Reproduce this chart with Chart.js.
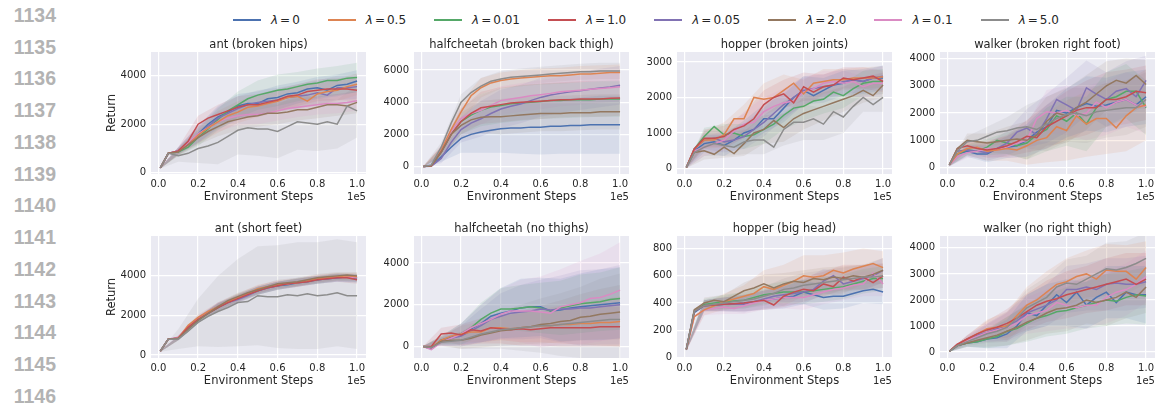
<!DOCTYPE html>
<html>
<head>
<meta charset="utf-8">
<script src="https://cdn.jsdelivr.net/npm/chart.js@4.4.0/dist/chart.umd.min.js"></script>
<style>
  body { margin: 0; width: 1157px; height: 408px; position: relative; overflow: hidden; background: #fff;
         font-family: "DejaVu Sans", sans-serif; color: #262626; }
  .ln { position: absolute; left: 0; width: 56px; text-align: right; line-height: 20px;
        font: bold 19.5px "Liberation Sans", Arial, sans-serif; color: #b3b3b3; }
  #legend { position: absolute; left: 233px; top: 12px; display: flex; align-items: center; font-size: 12px; line-height: 16px; }
  .item { display: flex; align-items: center; margin-right: 28px; }
  .swatch { width: 28px; height: 2px; margin-right: 10px; }
  .eq { margin: 0 2px; }
  .ttl, .xl { position: absolute; text-align: center; font-size: 11.5px; line-height: 14px; white-space: nowrap; }
  .exp { position: absolute; text-align: right; font-size: 10px; line-height: 12px; }
  .yl { position: absolute; width: 60px; height: 14px; line-height: 14px; text-align: center; font-size: 11.5px; transform: rotate(-90deg); }
  .pan { position: absolute; }
</style>
</head>
<body>
<div id="legend"></div>
<script>
// x positions (environment steps, units of 1e5)
const steps = [0.01, 0.05, 0.1, 0.15, 0.2, 0.25, 0.3, 0.35, 0.4, 0.45, 0.5, 0.55, 0.6, 0.65, 0.7, 0.75, 0.8, 0.85, 0.9, 0.95, 1.0];
// indices of steps where the std bands are sampled
const bandIdx = [0, 2, 4, 6, 8, 10, 12, 14, 16, 18, 20];
const xTicks = [0, 0.2, 0.4, 0.6, 0.8, 1.0];

const lambdas = ["0", "0.01", "0.05", "0.1", "0.5", "1.0", "2.0", "5.0"];
const colors = ["#4C72B0", "#55A868", "#8172B3", "#DA8BC3", "#DD8452", "#C44E52", "#937860", "#8C8C8C"];
const legendOrder = [0, 4, 1, 5, 2, 6, 3, 7];
const lineNumbers = ["1134", "1135", "1136", "1137", "1138", "1139", "1140", "1141", "1142", "1143", "1144", "1145", "1146"];

const titles = ["ant (broken hips)", "halfcheetah (broken back thigh)", "hopper (broken joints)", "walker (broken right foot)",
                "ant (short feet)", "halfcheetah (no thighs)", "hopper (big head)", "walker (no right thigh)"];
const yTicks = [[0, 2000, 4000], [0, 2000, 4000, 6000], [0, 1000, 2000, 3000], [0, 1000, 2000, 3000, 4000],
                [0, 2000, 4000], [0, 2000, 4000], [0, 200, 400, 600, 800], [0, 1000, 2000, 3000, 4000]];
const yMin = [-53, -467, -155, -235, -150, -549, -4, -228];
const yMax = [4978, 7125, 3280, 4242, 6015, 5294, 892, 4456];

// mean return per lambda (order: 0, 0.01, 0.05, 0.1, 0.5, 1.0, 2.0, 5.0)
const antHips = [
  [200,800,900,1200,1600,2000,2300,2500,2750,2850,2850,3050,3100,3250,3300,3450,3500,3400,3600,3650,3780],
  [200,800,850,1050,1450,1800,2200,2550,2800,3050,3200,3300,3400,3450,3550,3650,3700,3800,3800,3900,3930],
  [200,800,900,1200,1550,1900,2250,2450,2650,2800,2900,2950,3000,3100,3150,3200,3300,3200,3500,3500,3550],
  [200,800,900,1250,1600,1850,2100,2250,2350,2400,2400,2450,2550,2650,2700,2750,2800,2850,2850,2900,2970],
  [200,800,880,1150,1550,1850,2100,2350,2500,2700,2750,2850,2950,3100,3150,2950,3250,3350,3400,3550,3650],
  [200,800,900,1300,2000,2250,2400,2550,2700,2800,2800,2900,3000,3150,3200,3350,3400,3450,3450,3450,3400],
  [200,800,850,1150,1450,1700,1900,2100,2200,2300,2350,2450,2450,2500,2600,2600,2700,2800,2800,2750,2900],
  [200,800,700,800,1000,1100,1250,1500,1750,1850,1800,1800,1700,1900,2100,2050,2000,2100,2000,2750,2550]
];
const cheetahBackThigh = [
  [0,50,600,1200,1750,2000,2150,2250,2350,2400,2400,2450,2450,2500,2500,2550,2550,2600,2600,2600,2600],
  [0,50,900,2000,2800,3200,3500,3700,3800,3900,3950,4000,4050,4100,4100,4150,4150,4150,4200,4200,4200],
  [0,20,500,1500,2300,2700,2970,3300,3580,3750,3890,4100,4300,4450,4550,4650,4710,4800,4880,4950,5060],
  [0,50,1000,2200,3000,3300,3500,3800,4100,4200,4300,4400,4470,4550,4650,4700,4750,4800,4850,4900,4960],
  [0,50,1000,2300,3400,4400,4900,5200,5350,5450,5500,5550,5600,5650,5650,5700,5750,5750,5800,5850,5850],
  [0,50,900,2000,2800,3300,3650,3750,3850,3950,4000,4030,4060,4100,4150,4150,4200,4200,4200,4250,4260],
  [0,50,900,2000,2560,2900,3070,3100,3100,3150,3200,3250,3300,3300,3300,3350,3350,3350,3400,3400,3400],
  [0,100,1200,2700,4000,4600,5000,5300,5450,5550,5600,5650,5700,5750,5800,5850,5900,5900,5950,5950,5950]
];
const hopperJoints = [
  [30,500,700,750,650,800,1000,1100,1400,1400,1700,2000,2200,2050,2200,2350,2400,2500,2450,2550,2550],
  [30,550,900,1180,950,1000,900,950,1100,1250,1500,1700,1750,1900,1950,2150,2050,2250,2400,2450,2450],
  [30,550,800,850,750,800,900,1100,1300,1550,1800,2000,2200,2250,2300,2350,2450,2500,2450,2550,2600],
  [30,500,600,700,800,1050,1250,1300,1600,1750,1850,1900,2150,2250,2400,2450,2400,2450,2300,2400,2400],
  [30,550,800,800,950,1400,1400,2000,1950,2000,2200,2400,2100,2400,2450,2500,2500,2550,2550,2550,2580],
  [30,550,850,850,900,1100,1200,1400,1800,2000,2100,1850,2300,2150,2300,2350,2550,2500,2550,2600,2450],
  [30,450,500,400,600,420,700,1000,1100,1350,1150,1400,1550,1650,1750,1850,1950,2050,2200,2050,2350],
  [30,450,600,700,650,600,750,800,800,600,1100,1300,1300,1400,1250,1600,1450,1750,2000,1800,2000]
];
const walkerFoot = [
  [100,500,600,500,500,700,750,800,1000,1300,1500,2100,2000,2200,2350,2250,2300,2400,2500,2300,2600],
  [100,500,650,600,750,1000,900,800,900,1200,1400,1900,1700,2000,1600,2200,2500,2600,2800,2800,2200],
  [100,600,650,600,550,700,900,1300,1450,1200,1800,2500,2300,2100,2930,2700,2500,2800,2900,2600,3200],
  [100,400,550,600,700,650,750,900,1000,1800,2050,2000,2100,1900,2000,2400,2200,2400,2500,2300,2250],
  [100,500,700,750,600,650,700,650,800,1000,1100,1500,1360,1900,1600,1800,1800,1460,1900,2200,2300],
  [100,700,800,700,650,700,800,950,1150,1100,1500,1700,1900,2100,2200,2200,2500,2500,2600,2800,2750],
  [100,700,1000,950,900,950,1000,1050,1000,1200,1700,2000,1900,2200,2400,2700,3000,3200,3100,3380,3050],
  [100,600,950,1000,1150,1300,1350,1450,1500,1400,1600,1800,1950,2000,1900,2050,2100,2150,2200,2200,2500]
];
const antFeet = [
  [200,800,850,1400,1800,2100,2400,2650,2850,3050,3250,3400,3500,3550,3650,3700,3800,3850,3900,3950,3850],
  [200,800,850,1350,1750,2100,2400,2700,2900,3100,3250,3450,3500,3600,3700,3750,3800,3900,3950,4000,3900],
  [200,800,850,1400,1800,2150,2450,2650,2800,3000,3250,3400,3500,3600,3650,3750,3800,3850,3900,3950,3900],
  [200,800,900,1450,1850,2150,2450,2700,2900,3100,3300,3450,3550,3600,3700,3750,3850,3900,3950,3950,3900],
  [200,800,850,1500,1900,2200,2450,2700,2900,3100,3350,3450,3550,3600,3650,3750,3850,3900,3950,4000,3950],
  [200,800,850,1400,1800,2100,2400,2650,2850,3050,3250,3400,3500,3600,3650,3700,3800,3850,3900,3900,3800],
  [200,800,850,1300,1750,2100,2450,2750,2950,3150,3300,3450,3600,3650,3700,3800,3900,3950,4000,4050,4000],
  [200,800,800,1200,1650,1950,2200,2400,2650,2700,3000,2950,2950,3050,3000,3100,3000,3050,3150,3000,3000]
];
const cheetahNoThighs = [
  [0,-100,300,450,600,850,1100,1450,1600,1700,1850,1900,1900,1700,1750,1850,1900,1950,2000,2050,2100],
  [0,-100,300,400,600,900,1300,1600,1800,1800,1850,1900,1850,1700,1850,1950,2050,2100,2150,2250,2300],
  [0,-100,250,400,500,750,1000,1300,1450,1600,1650,1700,1800,1750,1800,1800,1850,1850,1900,1950,2000],
  [0,-150,200,400,600,900,1100,1300,1550,1700,1700,1700,1650,1600,1900,2000,2100,2300,2350,2500,2700],
  [0,-50,300,500,600,700,700,900,900,850,900,950,1000,1000,1050,1050,1100,1100,1150,1150,1200],
  [0,0,600,650,550,800,750,900,850,800,850,800,850,900,900,900,900,900,950,950,950],
  [0,-50,250,300,300,400,550,650,750,800,900,950,1050,1100,1200,1250,1400,1450,1550,1600,1650],
  [0,-50,200,250,300,450,600,700,800,850,900,950,1000,1000,1050,1100,1150,1200,1250,1300,1300]
];
const hopperHead = [
  [60,330,380,385,390,395,400,410,420,430,440,450,480,460,440,450,450,470,490,500,480],
  [60,340,390,400,410,415,420,440,460,470,480,480,480,490,500,510,520,540,560,580,580],
  [60,340,380,385,390,390,390,410,430,450,460,470,480,500,560,600,540,560,580,600,640],
  [60,300,350,360,370,360,380,400,420,430,440,440,440,460,480,500,510,530,540,620,540],
  [60,300,350,380,410,430,450,470,520,500,530,560,600,590,600,640,620,650,670,690,660],
  [60,340,380,385,390,395,400,410,420,385,450,480,500,490,540,520,590,560,590,550,600],
  [60,350,400,420,410,450,490,510,540,510,540,560,550,580,570,590,580,600,590,610,640],
  [60,340,380,390,400,410,420,430,450,470,500,510,530,540,550,560,570,580,590,590,600]
];
const walkerThigh = [
  [30,250,350,400,500,550,700,1000,1500,1400,1800,2200,1900,2300,1800,2100,2300,1900,2300,2200,2200],
  [30,250,350,400,500,600,800,900,1100,1300,1400,1550,1600,1700,1800,1900,2000,1950,2100,2200,2150],
  [30,300,500,650,750,900,1000,1200,1500,1650,1800,2000,2400,2400,2500,2400,2600,2650,2600,2600,2700],
  [30,300,450,600,750,850,950,1100,1400,1500,1600,1900,1800,1700,1800,1800,2100,2300,2400,2600,2900],
  [30,300,500,700,900,950,1000,1400,1800,2000,2300,2600,2700,2900,3000,2800,3150,3100,3100,2800,3250],
  [30,300,500,700,850,950,1100,1300,1550,1800,1950,2050,2200,2300,2400,2500,2600,2700,2800,2600,2800],
  [30,250,350,450,550,650,800,950,1150,1300,1500,1650,1700,1800,2000,1900,2000,2100,2300,2100,2500],
  [30,250,400,550,700,800,950,1300,1700,1900,2100,2500,2650,2600,2800,3000,3200,3150,3250,3400,3600]
];

// std of return, sampled at steps[bandIdx]
const antHipsSd = [
  [30,150,350,450,500,500,500,450,450,450,450],
  [30,150,350,450,550,600,650,600,600,600,600],
  [30,150,350,450,500,500,500,500,500,500,500],
  [30,150,350,400,400,400,400,400,400,400,400],
  [30,150,350,450,450,450,450,450,450,450,450],
  [30,150,350,400,450,450,450,450,450,450,450],
  [30,150,300,400,450,450,450,450,450,450,450],
  [30,250,600,900,1000,1100,1100,1150,1100,1000,1100]
];
const cheetahBackThighSd = [
  [20,300,900,1300,1500,1600,1700,1700,1750,1800,1800],
  [20,300,800,1000,1100,1100,1100,1100,1100,1100,1100],
  [20,300,800,1100,1200,1200,1200,1200,1200,1200,1200],
  [20,300,700,900,900,900,900,900,900,900,900],
  [20,300,600,600,500,500,500,500,500,500,500],
  [20,300,800,1000,1100,1100,1100,1100,1100,1100,1100],
  [20,300,800,1000,1100,1100,1100,1100,1100,1100,1100],
  [20,300,500,500,500,500,500,500,500,500,500]
];
const hopperJointsSd = [
  [20,250,300,350,400,400,400,350,350,350,350],
  [20,250,300,350,400,400,400,400,350,350,350],
  [20,250,300,350,400,400,400,350,350,300,300],
  [20,250,300,350,400,400,400,350,350,300,300],
  [20,250,350,400,450,450,400,350,300,300,300],
  [20,250,300,350,400,400,400,350,300,300,300],
  [20,250,300,350,400,400,450,400,350,350,350],
  [20,250,300,350,400,450,500,450,450,400,400]
];
const walkerFootSd = [
  [50,200,300,400,600,800,900,1000,1000,1000,1000],
  [50,200,300,400,600,800,900,1000,1000,1000,1000],
  [50,200,300,450,700,900,1000,1000,1000,1000,900],
  [50,200,300,400,600,800,900,1000,1000,1000,1000],
  [50,250,350,450,700,900,1100,1200,1300,1300,1300],
  [50,200,300,400,600,800,900,1000,1000,1000,1000],
  [50,250,350,500,700,900,1000,1000,900,900,900],
  [50,200,350,500,800,1000,1000,1000,1000,1000,1000]
];
const antFeetSd = [
  [30,100,150,200,200,200,200,200,200,200,200],
  [30,100,150,200,200,200,200,200,200,200,200],
  [30,100,150,200,200,200,200,200,200,200,200],
  [30,100,150,200,200,200,200,200,200,200,200],
  [30,100,150,200,200,200,200,200,200,200,200],
  [30,100,150,200,200,200,200,200,200,200,200],
  [30,100,150,200,200,200,200,200,200,200,200],
  [30,500,1200,1800,2200,2500,2600,2700,2700,2700,2700]
];
const cheetahNoThighsSd = [
  [20,200,500,900,1200,1400,1400,1500,1600,1700,1700],
  [20,200,500,800,1000,1100,1200,1300,1400,1400,1500],
  [20,200,500,800,1100,1300,1400,1600,1800,1800,1900],
  [20,200,500,900,1200,1500,1700,1800,2000,2100,2300],
  [20,200,400,500,600,700,800,900,1000,1100,1200],
  [20,300,500,600,700,800,800,900,900,950,950],
  [20,200,400,600,700,800,900,1000,1100,1200,1300],
  [20,200,400,700,900,1100,1300,1500,1700,2000,2200]
];
const hopperHeadSd = [
  [10,40,50,60,70,80,90,90,90,90,90],
  [10,40,50,60,70,80,90,90,90,90,90],
  [10,40,50,60,70,80,90,90,90,90,90],
  [10,40,50,60,70,80,90,90,90,90,90],
  [10,40,60,80,120,150,150,150,150,130,120],
  [10,40,50,60,70,80,90,90,90,90,90],
  [10,40,50,60,70,80,90,90,90,90,90],
  [10,40,50,60,70,80,90,90,90,90,90]
];
const walkerThighSd = [
  [20,150,350,550,700,800,900,900,1000,1000,1100],
  [20,150,350,550,700,800,900,900,1000,1000,1100],
  [20,150,350,550,700,800,900,900,1000,1000,1000],
  [20,150,350,550,700,800,900,900,1000,1000,1000],
  [20,150,350,550,700,800,900,900,1000,1000,1000],
  [20,150,350,550,700,800,900,900,1000,1000,1000],
  [20,150,350,550,700,800,900,900,1000,1000,1000],
  [20,150,350,550,700,800,900,900,1000,1000,1000]
];

const panelMeans = [antHips, cheetahBackThigh, hopperJoints, walkerFoot, antFeet, cheetahNoThighs, hopperHead, walkerThigh];
const panelSds = [antHipsSd, cheetahBackThighSd, hopperJointsSd, walkerFootSd, antFeetSd, cheetahNoThighsSd, hopperHeadSd, walkerThighSd];

// layout of the plot areas (px)
const colLefts = [151, 414, 677, 940];
const rowTops = [51, 235];
const plotW = 215, plotH = 123;
const padL = 45, padT = 10, padR = 12, padB = 22;

Chart.defaults.font.family = "DejaVu Sans";
Chart.defaults.color = "#262626";

function rgba(hex, a) {
  const n = parseInt(hex.slice(1), 16);
  return `rgba(${n >> 16}, ${(n >> 8) & 255}, ${n & 255}, ${a})`;
}

const panelBg = {
  id: "panelBg",
  beforeDraw(chart) {
    const { ctx, chartArea: a } = chart;
    ctx.save();
    ctx.fillStyle = "#EAEAF2";
    ctx.fillRect(a.left, a.top, a.width, a.height);
    ctx.restore();
  },
};

function addDiv(cls, text, style) {
  const d = document.createElement("div");
  d.className = cls;
  d.textContent = text;
  Object.assign(d.style, style);
  document.body.appendChild(d);
  return d;
}

// line numbers in the margin
lineNumbers.forEach((t, i) => addDiv("ln", t, { top: (3.75 + i * 31.75) + "px" }));

// legend
const legendEl = document.getElementById("legend");
legendOrder.forEach((i) => {
  const item = document.createElement("div");
  item.className = "item";
  item.innerHTML = `<span class="swatch" style="background:${colors[i]}"></span><span><i>λ</i><span class="eq">=</span>${lambdas[i]}</span>`;
  legendEl.appendChild(item);
});

panelMeans.forEach((means, p) => {
  const col = p % 4, row = Math.floor(p / 4);
  const left = colLefts[col], top = rowTops[row];
  const sds = panelSds[p];

  const canvas = document.createElement("canvas");
  canvas.className = "pan";
  canvas.width = padL + plotW + padR;
  canvas.height = padT + plotH + padB;
  canvas.style.left = (left - padL) + "px";
  canvas.style.top = (top - padT) + "px";
  document.body.appendChild(canvas);

  const datasets = [];
  means.forEach((vals, i) => {
    datasets.push({
      data: bandIdx.map((j, k) => ({ x: steps[j], y: vals[j] + sds[i][k] })),
      fill: "+1", backgroundColor: rgba(colors[i], 0.12), borderWidth: 0, pointRadius: 0, order: 20,
    });
    datasets.push({
      data: bandIdx.map((j, k) => ({ x: steps[j], y: vals[j] - sds[i][k] })),
      fill: false, borderWidth: 0, pointRadius: 0, order: 20,
    });
  });
  means.forEach((vals, i) => {
    datasets.push({
      label: "λ=" + lambdas[i],
      data: steps.map((s, j) => ({ x: s, y: vals[j] })),
      borderColor: colors[i], borderWidth: 1.5, pointRadius: 0, fill: false, tension: 0, order: 8 - i,
    });
  });

  new Chart(canvas.getContext("2d"), {
    type: "line",
    data: { datasets },
    plugins: [panelBg],
    options: {
      responsive: false,
      animation: false,
      layout: { padding: { left: 0, top: padT, right: padR, bottom: 0 } },
      plugins: { legend: { display: false }, tooltip: { enabled: false } },
      scales: {
        x: {
          type: "linear", min: -0.037, max: 1.045,
          afterBuildTicks: (s) => { s.ticks = xTicks.map((v) => ({ value: v })); },
          afterFit: (s) => { s.height = padB; },
          ticks: { callback: (v) => v.toFixed(1), font: { size: 10 }, padding: 4, maxRotation: 0, autoSkip: false },
          grid: { color: "#ffffff", lineWidth: 1.2, drawTicks: false },
          border: { display: false },
        },
        y: {
          min: yMin[p], max: yMax[p],
          afterBuildTicks: (s) => { s.ticks = yTicks[p].map((v) => ({ value: v })); },
          afterFit: (s) => { s.width = padL; },
          ticks: { callback: (v) => String(v), font: { size: 10 }, padding: 5, autoSkip: false },
          grid: { color: "#ffffff", lineWidth: 1.2, drawTicks: false },
          border: { display: false },
        },
      },
    },
  });

  // titles and axis labels
  const dy = row * 184;
  addDiv("ttl", titles[p], { left: left + "px", width: plotW + "px", top: (36.8 + dy) + "px" });
  addDiv("xl", "Environment Steps", { left: left + "px", width: plotW + "px", top: (189 + dy) + "px" });
  addDiv("exp", "1e5", { left: (left + plotW - 40) + "px", width: "40px", top: (190.5 + dy) + "px" });
  if (col === 0) {
    addDiv("yl", "Return", { left: (111 - 30) + "px", top: (top + plotH / 2 - 7) + "px" });
  }
});
</script>
</body>
</html>
